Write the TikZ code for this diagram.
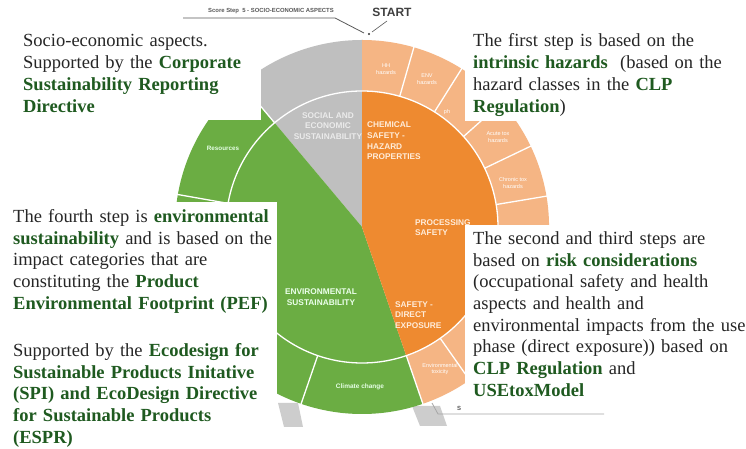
\documentclass[tikz,border=0pt]{standalone}
\usepackage{fontspec}
\setmainfont{Liberation Serif}
\setsansfont{Liberation Sans}
\usetikzlibrary{calc}
\definecolor{cgray}{HTML}{BFBFBF}
\definecolor{cgreen}{HTML}{6BAD43}
\definecolor{corange}{HTML}{EE8A30}
\definecolor{clight}{HTML}{F5B584}
\definecolor{dgreen}{HTML}{1F5A20}
\definecolor{txt}{HTML}{262626}
\definecolor{legc}{HTML}{CDCDCD}
\definecolor{annot}{HTML}{595959}
\newcommand\grn[1]{\textbf{\color{dgreen}#1}}
\begin{document}
\begin{tikzpicture}[x=1pt,y=1pt,
  whitebox/.style={fill=white,draw=none},
  para/.style={anchor=base west,inner sep=0pt,align=left,text width=290pt,text=txt,
    font=\fontsize{18.5}{21.7}\selectfont},
  inlab/.style={inner sep=0pt,font=\sffamily\bfseries\fontsize{8.3}{10.6}\selectfont},
  outlab/.style={inner sep=0pt,align=center,text=white,font=\sffamily\fontsize{5.5}{6.4}\selectfont},
  sepline/.style={white,line width=1.3pt},
  annotline/.style={annot,line width=0.8pt},
]
\useasboundingbox (0,0) rectangle (746,449);
\fill[white] (0,0) rectangle (746,449);

\coordinate (C) at (362,222);

% grey feet behind the wheel
\fill[legc] (278,46) -- (298,46) -- (303,22) -- (284,22) -- cycle;
\fill[legc] (412,43) -- (440,43) -- (447,23) -- (420,23) -- cycle;

% sectors
\fill[cgray] (C) -- ($(C)+(90:187)$) arc[start angle=90,end angle=130,radius=187] -- cycle;
\fill[cgreen] (C) -- ($(C)+(130:187)$) arc[start angle=130,end angle=289,radius=187] -- cycle;
\fill[clight] (C) -- ($(C)+(-71:187)$) arc[start angle=-71,end angle=90,radius=187] -- cycle;
\fill[corange] (C) -- ($(C)+(-71:136)$) arc[start angle=-71,end angle=90,radius=136] -- cycle;

% white separators
\draw[sepline] (C) circle[radius=136];
\foreach \a in {73.9,57.8,41.7,25.6,9.5,-6.6,-22.7,-38.8,-54.9,-71,130,170,210,251}
  \draw[sepline] ($(C)+(\a:136)$) -- ($(C)+(\a:188)$);

% inner labels
\node[inlab,align=center,text=white!92!black] (soc) at (328,323) {SOCIAL AND\\ECONOMIC\\SUSTAINABILITY};
\node[inlab,align=left,anchor=west,text=orange!15!white] (chem) at (367,308) {CHEMICAL\\SAFETY -\\HAZARD\\PROPERTIES};
\node[inlab,align=left,anchor=west,text=orange!15!white] (proc) at (415,221.5) {PROCESSING\\SAFETY};
\node[inlab,align=left,anchor=west,text=orange!15!white] (direct) at (395,134) {SAFETY -\\DIRECT\\EXPOSURE};
\node[inlab,align=center,text=green!8!white] (env) at (321,152) {ENVIRONMENTAL\\SUSTAINABILITY};

% outer labels
\node[outlab] (hh) at (386,380) {HH\\hazards};
\node[outlab] (envh) at (427,370) {ENV\\hazards};
\node[outlab] (phys) at (447,337) {ph};
\node[outlab] (acute) at (498,312) {Acute tox\\hazards};
\node[outlab] (chron) at (513,266) {Chronic tox\\hazards};
\node[outlab] (envtox) at (440,80) {Environmental\\toxicity};
\node[outlab,font=\sffamily\bfseries\fontsize{6.3}{7}\selectfont,text=green!10!white] (res) at (223,301) {Resources};
\node[outlab,font=\sffamily\bfseries\fontsize{6.5}{7}\selectfont,text=green!10!white] (clim) at (360,62) {Climate change};

% bottom score label (mostly hidden)
\coordinate (bl1) at (438,35);
\coordinate (bl2) at (604,35);
\coordinate (bl0) at (432,46);
\draw[annotline,color=gray!70] (bl0) -- (bl1) -- (bl2);
\node[inner sep=0pt,anchor=base west,text=annot,font=\sffamily\bfseries\fontsize{6}{7}\selectfont] (sbot) at (457,38) {S};

% text boxes
\fill[whitebox] (0,329) rectangle (261,427);
\fill[whitebox] (465,328) rectangle (746,427);
\fill[whitebox] (0,0) rectangle (277,247);
\fill[whitebox] (465,44) rectangle (746,224);

\node[para] (tl) at (23,402) {Socio-economic aspects.\\
Supported by the \grn{Corporate}\\
\grn{Sustainability Reporting}\\
\grn{Directive}};

\node[para] (tr) at (473,402) {The first step is based on the\\
\grn{intrinsic hazards}~ (based on the\\
hazard classes in the \grn{CLP}\\
\grn{Regulation})};

\node[para] (ml) at (13,226.5) {The fourth step is \grn{environmental}\\
\grn{sustainability} and is based on the\\
impact categories that are\\
constituting the \grn{Product}\\
\grn{Environmental Footprint (PEF)}};

\node[para] (bl) at (13,92.5) {Supported by the \grn{Ecodesign for}\\
\grn{Sustainable Products Initative}\\
\grn{(SPI) and EcoDesign Directive}\\
\grn{for Sustainable Products}\\
\grn{(ESPR)}};

\node[para] (br) at (473,204.5) {The second and third steps are\\
based on \grn{risk considerations}\\
(occupational safety and health\\
aspects and health and\\
environmental impacts from the use\\
phase (direct exposure)) based on\\
\grn{CLP Regulation} and\\
\grn{USEtoxModel}};

% top annotation
\node[inner sep=0pt,text=annot,font=\sffamily\bfseries\fontsize{5.9}{7}\selectfont] (score) at (271,437.5) {Score Step~~5 - SOCIO-ECONOMIC ASPECTS};
\node[inner sep=0pt,text=black!75,font=\sffamily\bfseries\fontsize{12}{14}\selectfont] (start) at (392,437) {START};
\coordinate (ul) at (183,431);
\coordinate (ur) at (335,431);
\coordinate (tip) at (364,416);
\coordinate (stl) at (387,428);
\coordinate (stt) at (372,417);
\coordinate (dot) at (369,415);
\draw[annotline] (ul) -- (ur) -- (tip);
\draw[annotline,line width=0.6pt] (stl) -- (stt);
\fill[black!80] (dot) circle[radius=1.2];
\end{tikzpicture}
\end{document}
